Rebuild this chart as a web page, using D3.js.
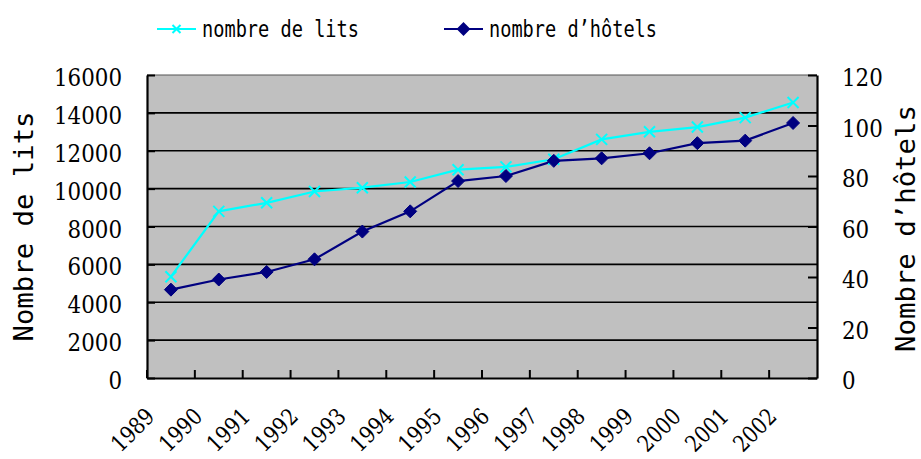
<!DOCTYPE html>
<html>
<head>
<meta charset="utf-8">
<script src="https://cdn.jsdelivr.net/npm/d3@7"></script>
<style>
  html, body { margin: 0; padding: 0; background: #fff; }
  svg { display: block; }
</style>
</head>
<body>
<svg id="chart" width="921" height="459"></svg>
<script>
// Hotel capacity by year: beds (left axis) and hotels (right axis)
const years = ["1989","1990","1991","1992","1993","1994","1995","1996","1997","1998","1999","2000","2001","2002"];
const lits = [5350, 8800, 9250, 9850, 10050, 10350, 11000, 11150, 11550, 12600, 13000, 13250, 13750, 14550];
const hotels = [35, 39, 42, 47, 58, 66, 78, 80, 86, 87, 89, 93, 94, 101];
const leftTicks = [0, 2000, 4000, 6000, 8000, 10000, 12000, 14000, 16000];
const rightTicks = [0, 20, 40, 60, 80, 100, 120];
const seriesNames = ["nombre de lits", "nombre d\u2019h\u00f4tels"];
const axisTitles = ["Nombre de lits", "Nombre d\u2019h\u00f4tels"];

const svg = d3.select("#chart");
const plot = { left: 147, right: 817, top: 75, bottom: 378 };
const cyan = "#00FFFF", navy = "#000080";
const serif = "DejaVu Serif";
const mono = "DejaVu Sans Mono";
const digitW = 13.6; // advance per digit for numeric labels

const x = d3.scaleBand().domain(years).range([plot.left, plot.right]).padding(0);
const yL = d3.scaleLinear().domain([0, 16000]).range([plot.bottom, plot.top]);
const yR = d3.scaleLinear().domain([0, 120]).range([plot.bottom, plot.top]);
const cx = d => x(d) + x.bandwidth() / 2;

// plot background
svg.append("rect")
  .attr("x", plot.left).attr("y", plot.top)
  .attr("width", plot.right - plot.left).attr("height", plot.bottom - plot.top)
  .attr("fill", "#C0C0C0");

// horizontal gridlines
svg.append("g").selectAll("line")
  .data(leftTicks.filter(t => t > 0 && t < 16000))
  .join("line")
  .attr("x1", plot.left).attr("x2", plot.right)
  .attr("y1", d => yL(d)).attr("y2", d => yL(d))
  .attr("stroke", "#000").attr("stroke-width", 1.6);

// top border
svg.append("line")
  .attr("x1", plot.left).attr("x2", plot.right)
  .attr("y1", plot.top).attr("y2", plot.top)
  .attr("stroke", "#555").attr("stroke-width", 1.2);

function styleNumbers(sel) {
  sel.style("font-family", serif)
    .attr("font-size", 25)
    .attr("fill", "#000")
    .attr("dy", "0.42em")
    .attr("textLength", function () { return this.textContent.length * digitW; })
    .attr("lengthAdjust", "spacingAndGlyphs");
}

// left axis
const gL = svg.append("g")
  .attr("transform", `translate(${plot.left},0)`)
  .call(d3.axisLeft(yL).tickValues(leftTicks).tickFormat(d3.format("d"))
    .tickSizeInner(-8).tickSizeOuter(0).tickPadding(25));
gL.attr("font-family", null).attr("font-size", null);
gL.select(".domain").attr("stroke", "#000").attr("stroke-width", 2.2);
gL.selectAll(".tick line").attr("stroke", "#000").attr("stroke-width", 2);
gL.selectAll("text").call(styleNumbers);

// right axis
const gR = svg.append("g")
  .attr("transform", `translate(${plot.right},0)`)
  .call(d3.axisRight(yR).tickValues(rightTicks).tickFormat(d3.format("d"))
    .tickSizeInner(-9).tickSizeOuter(0).tickPadding(25));
gR.attr("font-family", null).attr("font-size", null);
gR.select(".domain").attr("stroke", "#000").attr("stroke-width", 2.2);
gR.selectAll(".tick line").attr("stroke", "#000").attr("stroke-width", 2);
gR.selectAll("text").call(styleNumbers);

// bottom axis: ticks at category boundaries, labels rotated
const gB = svg.append("g")
  .attr("transform", `translate(0,${plot.bottom})`)
  .call(d3.axisBottom(x).tickSizeInner(-8).tickSizeOuter(0).tickFormat(""));
gB.select(".domain").attr("stroke", "#000").attr("stroke-width", 2.2);
gB.selectAll(".tick").attr("transform", d => `translate(${x(d)},0)`);
gB.selectAll(".tick line").attr("stroke", "#000").attr("stroke-width", 2);

svg.append("g").selectAll("text")
  .data(years)
  .join("text")
  .style("font-family", serif)
  .attr("transform", d => `translate(${cx(d) - 15},${plot.bottom + 40}) rotate(-45)`)
  .attr("text-anchor", "end")
  .attr("font-size", 23)
  .attr("textLength", d => d.length * 12.5)
  .attr("lengthAdjust", "spacingAndGlyphs")
  .attr("fill", "#000")
  .text(d => d);

// series lines
const lineL = d3.line().x((d, i) => cx(years[i])).y(d => yL(d));
const lineR = d3.line().x((d, i) => cx(years[i])).y(d => yR(d));

svg.append("path").datum(lits)
  .attr("d", lineL).attr("fill", "none")
  .attr("stroke", cyan).attr("stroke-width", 2.2);

svg.append("path").datum(hotels)
  .attr("d", lineR).attr("fill", "none")
  .attr("stroke", navy).attr("stroke-width", 2.2);

// markers
const xMark = s => `M${-s},${-s}L${s},${s}M${-s},${s}L${s},${-s}`;
const diamond = s => `M0,${-s}L${s},0L0,${s}L${-s},0Z`;

svg.append("g").selectAll("path")
  .data(lits)
  .join("path")
  .attr("transform", (d, i) => `translate(${cx(years[i])},${yL(d)})`)
  .attr("d", xMark(5.5))
  .attr("stroke", cyan).attr("stroke-width", 2).attr("fill", "none");

svg.append("g").selectAll("path")
  .data(hotels)
  .join("path")
  .attr("transform", (d, i) => `translate(${cx(years[i])},${yR(d)})`)
  .attr("d", diamond(6.5))
  .attr("fill", navy).attr("stroke", navy).attr("stroke-width", 1);

// axis titles
svg.append("text")
  .style("font-family", mono)
  .attr("transform", `translate(33,${(plot.top + plot.bottom) / 2}) rotate(-90)`)
  .attr("text-anchor", "middle")
  .attr("font-size", 27)
  .attr("textLength", 230).attr("lengthAdjust", "spacingAndGlyphs")
  .attr("fill", "#000")
  .text(axisTitles[0]);

svg.append("text")
  .style("font-family", mono)
  .attr("transform", `translate(915,${(plot.top + plot.bottom) / 2 + 2}) rotate(-90)`)
  .attr("text-anchor", "middle")
  .attr("font-size", 27)
  .attr("textLength", 247).attr("lengthAdjust", "spacingAndGlyphs")
  .attr("fill", "#000")
  .text(axisTitles[1]);

// legend
const legend = svg.append("g");
const legendItems = [
  { name: seriesNames[0], color: cyan, x0: 157, x1: 196, tx: 202, len: 157, mark: xMark(4), fill: "none" },
  { name: seriesNames[1], color: navy, x0: 444, x1: 483, tx: 489, len: 168, mark: diamond(5.5), fill: navy }
];
legendItems.forEach(it => {
  legend.append("line")
    .attr("x1", it.x0).attr("x2", it.x1).attr("y1", 29).attr("y2", 29)
    .attr("stroke", it.color).attr("stroke-width", 2.2);
  legend.append("path")
    .attr("transform", `translate(${(it.x0 + it.x1) / 2},29)`)
    .attr("d", it.mark)
    .attr("stroke", it.color).attr("stroke-width", 2).attr("fill", it.fill);
  legend.append("text")
    .style("font-family", mono)
    .attr("x", it.tx).attr("y", 37)
    .attr("font-size", 23)
    .attr("textLength", it.len).attr("lengthAdjust", "spacingAndGlyphs")
    .attr("fill", "#000")
    .text(it.name);
});
</script>
</body>
</html>
